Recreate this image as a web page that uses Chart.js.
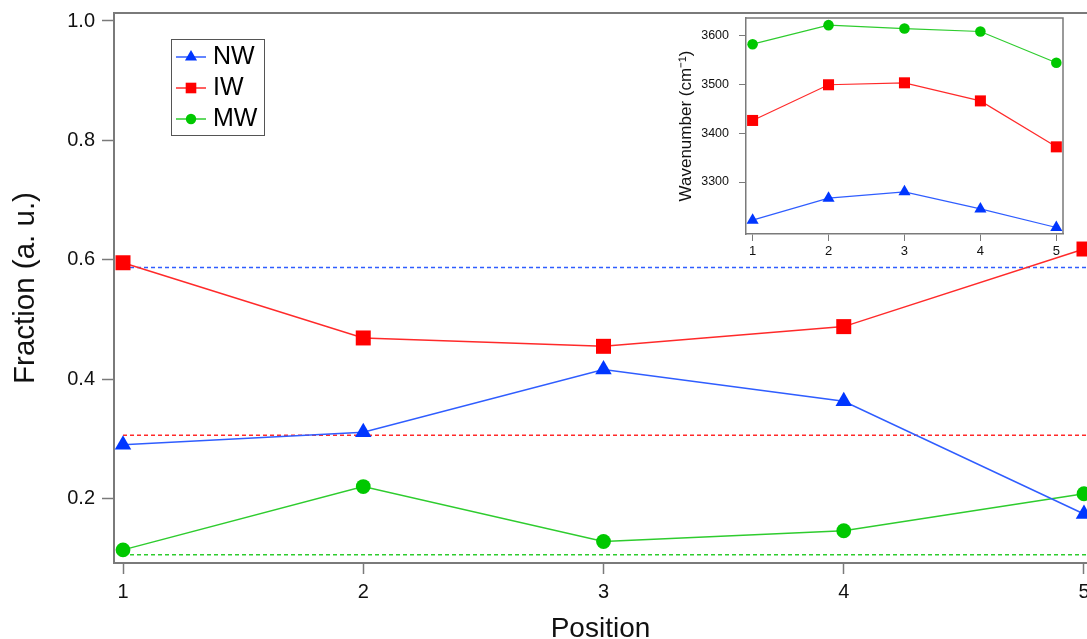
<!DOCTYPE html>
<html><head><meta charset="utf-8">
<script src="https://cdn.jsdelivr.net/npm/chart.js@4.4.1/dist/chart.umd.min.js"></script>
<style>
html,body{margin:0;padding:0;background:#fff;}
#wrap{position:relative;width:1087px;height:639px;overflow:hidden;background:#fff;}
#main{position:absolute;left:0;top:0;width:1087px;height:639px;}
#inset{position:absolute;left:660px;top:0;width:427px;height:270px;}
</style></head><body>
<div id="wrap"><canvas id="main" width="1087" height="639"></canvas><canvas id="inset" width="427" height="270"></canvas></div>
<script>
// ---- data ----
const seriesNames = ['NW', 'IW', 'MW'];
const positions = [1, 2, 3, 4, 5];
const nwFraction = [0.290, 0.311, 0.416, 0.363, 0.174];
const iwFraction = [0.595, 0.469, 0.455, 0.488, 0.618];
const mwFraction = [0.114, 0.220, 0.128, 0.146, 0.208];
const refLevels = [0.587, 0.306, 0.106];          // dashed lines: blue, red, green
const fractionTicks = [0.2, 0.4, 0.6, 0.8, 1.0];
const nwWavenumber = [3222, 3267, 3280, 3245, 3207];
const iwWavenumber = [3426, 3499, 3503, 3466, 3372];
const mwWavenumber = [3582, 3621, 3614, 3608, 3544];
const wavenumberTicks = [3300, 3400, 3500, 3600];

// ---- styles ----
const FONT = "'Liberation Sans', Arial, Helvetica, sans-serif";
const AXIS = '#7a7a7a';
const LINE_COL = ['#2f5dff', '#ff2a2a', '#2ecc2e'];
const MARK_COL = ['#0036ff', '#ff0000', '#00c800'];
const STYLES = ['triangle', 'rect', 'circle'];

function fixScale(w, h) {
  return function (s) {
    if (w !== null) s.width = w;
    if (h !== null) s.height = h;
    s.paddingLeft = 0; s.paddingRight = 0; s.paddingTop = 0; s.paddingBottom = 0;
  };
}
function xy(xs, ys) { return xs.map((x, i) => ({ x: x, y: ys[i] })); }

// ---- main chart ----
const MAIN_XMIN = 0.9625, MAIN_XMAX = 5.0125;
const mainSeries = [nwFraction, iwFraction, mwFraction];
const mainRadius = [9.5, 10.6, 7.4];
const mainSets = [];
mainSeries.forEach((vals, i) => {
  mainSets.push({
    label: seriesNames[i], data: xy(positions, vals),
    borderColor: LINE_COL[i], borderWidth: 1.5,
    pointStyle: STYLES[i], pointRadius: mainRadius[i], pointHoverRadius: mainRadius[i],
    pointBackgroundColor: MARK_COL[i], pointBorderColor: MARK_COL[i], pointBorderWidth: 0,
    clip: false, order: 1
  });
});
refLevels.forEach((v, i) => {
  mainSets.push({
    label: seriesNames[i] + ' ref', data: [{ x: positions[0], y: v }, { x: MAIN_XMAX, y: v }],
    borderColor: LINE_COL[i], borderWidth: 1.5, borderDash: [4, 3],
    pointRadius: 0, clip: false, order: 10
  });
});

const topFrame = {
  id: 'topFrame',
  beforeDatasetsDraw(chart) {
    const a = chart.chartArea, ctx = chart.ctx;
    ctx.save(); ctx.strokeStyle = AXIS; ctx.lineWidth = 2;
    ctx.beginPath(); ctx.moveTo(a.left - 1, a.top); ctx.lineTo(a.right, a.top); ctx.stroke();
    ctx.restore();
  }
};

function drawMarker(ctx, style, x, y, r) {
  ctx.beginPath();
  if (style === 'triangle') {
    ctx.moveTo(x, y - r);
    ctx.lineTo(x + r * Math.sin(2 * Math.PI / 3), y + r / 2);
    ctx.lineTo(x - r * Math.sin(2 * Math.PI / 3), y + r / 2);
    ctx.closePath();
  } else if (style === 'rect') {
    const s = r * Math.SQRT1_2;
    ctx.rect(x - s, y - s, 2 * s, 2 * s);
  } else {
    ctx.arc(x, y, r, 0, Math.PI * 2);
  }
  ctx.fill();
}

const boxLegend = {
  id: 'boxLegend',
  afterDraw(chart) {
    const ctx = chart.ctx;
    ctx.save();
    ctx.strokeStyle = '#555'; ctx.lineWidth = 1;
    ctx.strokeRect(171.5, 39.5, 93, 96);
    const rows = [57, 88, 119];
    const lr = [7, 7.5, 5.2];
    seriesNames.forEach((name, i) => {
      const y = rows[i];
      ctx.strokeStyle = LINE_COL[i]; ctx.lineWidth = 1.5;
      ctx.beginPath(); ctx.moveTo(176, y); ctx.lineTo(206, y); ctx.stroke();
      ctx.fillStyle = MARK_COL[i];
      drawMarker(ctx, STYLES[i], 191, y, lr[i]);
      ctx.fillStyle = '#000'; ctx.font = '25px ' + FONT;
      ctx.textAlign = 'left'; ctx.textBaseline = 'middle';
      ctx.fillText(name, 213, y + 0.5);
    });
    ctx.restore();
  }
};

new Chart(document.getElementById('main'), {
  type: 'line',
  data: { datasets: mainSets },
  options: {
    responsive: false, animation: false, devicePixelRatio: 1,
    layout: { autoPadding: false, padding: { left: 0, top: 13, right: 0, bottom: 0 } },
    plugins: { legend: { display: false }, tooltip: { enabled: false } },
    scales: {
      x: {
        type: 'linear', min: MAIN_XMIN, max: MAIN_XMAX,
        afterBuildTicks: s => { s.ticks = positions.map(v => ({ value: v })); },
        afterFit: fixScale(null, 76),
        grid: { display: true, drawOnChartArea: false, drawTicks: true, tickLength: 11, tickColor: AXIS, tickWidth: 1.5 },
        border: { display: true, color: AXIS, width: 2 },
        ticks: { font: { family: FONT, size: 20 }, color: '#111', padding: 6, maxRotation: 0, callback: v => String(v) },
        title: { display: true, text: 'Position', color: '#111', font: { family: FONT, size: 28, lineHeight: 0.67 }, padding: { top: 0, bottom: 0 } }
      },
      y: {
        type: 'linear', min: 0.092, max: 1.0134,
        afterBuildTicks: s => { s.ticks = fractionTicks.map(v => ({ value: v })); },
        afterFit: fixScale(114, null),
        grid: { display: true, drawOnChartArea: false, drawTicks: true, tickLength: 12, tickColor: AXIS, tickWidth: 1.5 },
        border: { display: true, color: AXIS, width: 2 },
        ticks: { font: { family: FONT, size: 20 }, color: '#111', padding: 7, callback: v => Number(v).toFixed(1) },
        title: { display: true, text: 'Fraction (a. u.)', color: '#111', font: { family: FONT, size: 29.5, lineHeight: 1 }, padding: { top: 11, bottom: 0 } }
      }
    }
  },
  plugins: [topFrame, boxLegend]
});

// ---- inset chart ----
const insetSeries = [nwWavenumber, iwWavenumber, mwWavenumber];
const insetRadius = [7, 7.8, 5.3];
const insetSets = insetSeries.map((vals, i) => ({
  label: seriesNames[i], data: xy(positions, vals),
  borderColor: LINE_COL[i], borderWidth: 1.2,
  pointStyle: STYLES[i], pointRadius: insetRadius[i], pointHoverRadius: insetRadius[i],
  pointBackgroundColor: MARK_COL[i], pointBorderColor: MARK_COL[i], pointBorderWidth: 0,
  clip: false
}));

const insetFrame = {
  id: 'insetFrame',
  beforeDatasetsDraw(chart) {
    const a = chart.chartArea, ctx = chart.ctx;
    ctx.save(); ctx.strokeStyle = AXIS; ctx.lineWidth = 1.5;
    ctx.beginPath();
    ctx.moveTo(a.left, a.top); ctx.lineTo(a.right, a.top); ctx.lineTo(a.right, a.bottom);
    ctx.stroke(); ctx.restore();
  }
};

new Chart(document.getElementById('inset'), {
  type: 'line',
  data: { datasets: insetSets },
  options: {
    responsive: false, animation: false, devicePixelRatio: 1,
    layout: { autoPadding: false, padding: { left: 0, top: 18, right: 24, bottom: 0 } },
    plugins: { legend: { display: false }, tooltip: { enabled: false } },
    scales: {
      x: {
        type: 'linear', min: 0.913, max: 5.088,
        afterBuildTicks: s => { s.ticks = positions.map(v => ({ value: v })); },
        afterFit: fixScale(null, 36),
        grid: { display: true, drawOnChartArea: false, drawTicks: true, tickLength: 7, tickColor: AXIS, tickWidth: 1 },
        border: { display: true, color: AXIS, width: 1.5 },
        ticks: { font: { family: FONT, size: 13 }, color: '#111', padding: 3, maxRotation: 0, callback: v => String(v) }
      },
      y: {
        type: 'linear', min: 3193.7, max: 3635.6,
        afterBuildTicks: s => { s.ticks = wavenumberTicks.map(v => ({ value: v })); },
        afterFit: fixScale(86, null),
        grid: { display: true, drawOnChartArea: false, drawTicks: true, tickLength: 7, tickColor: AXIS, tickWidth: 1 },
        border: { display: true, color: AXIS, width: 1.5 },
        ticks: { font: { family: FONT, size: 12.5 }, color: '#111', padding: 10, callback: v => String(v) },
        title: { display: true, text: 'Wavenumber (cm⁻¹)', color: '#111', font: { family: FONT, size: 17, lineHeight: 1.2 }, padding: { top: 16, bottom: 0 } }
      }
    }
  },
  plugins: [insetFrame]
});
</script>
</body></html>
